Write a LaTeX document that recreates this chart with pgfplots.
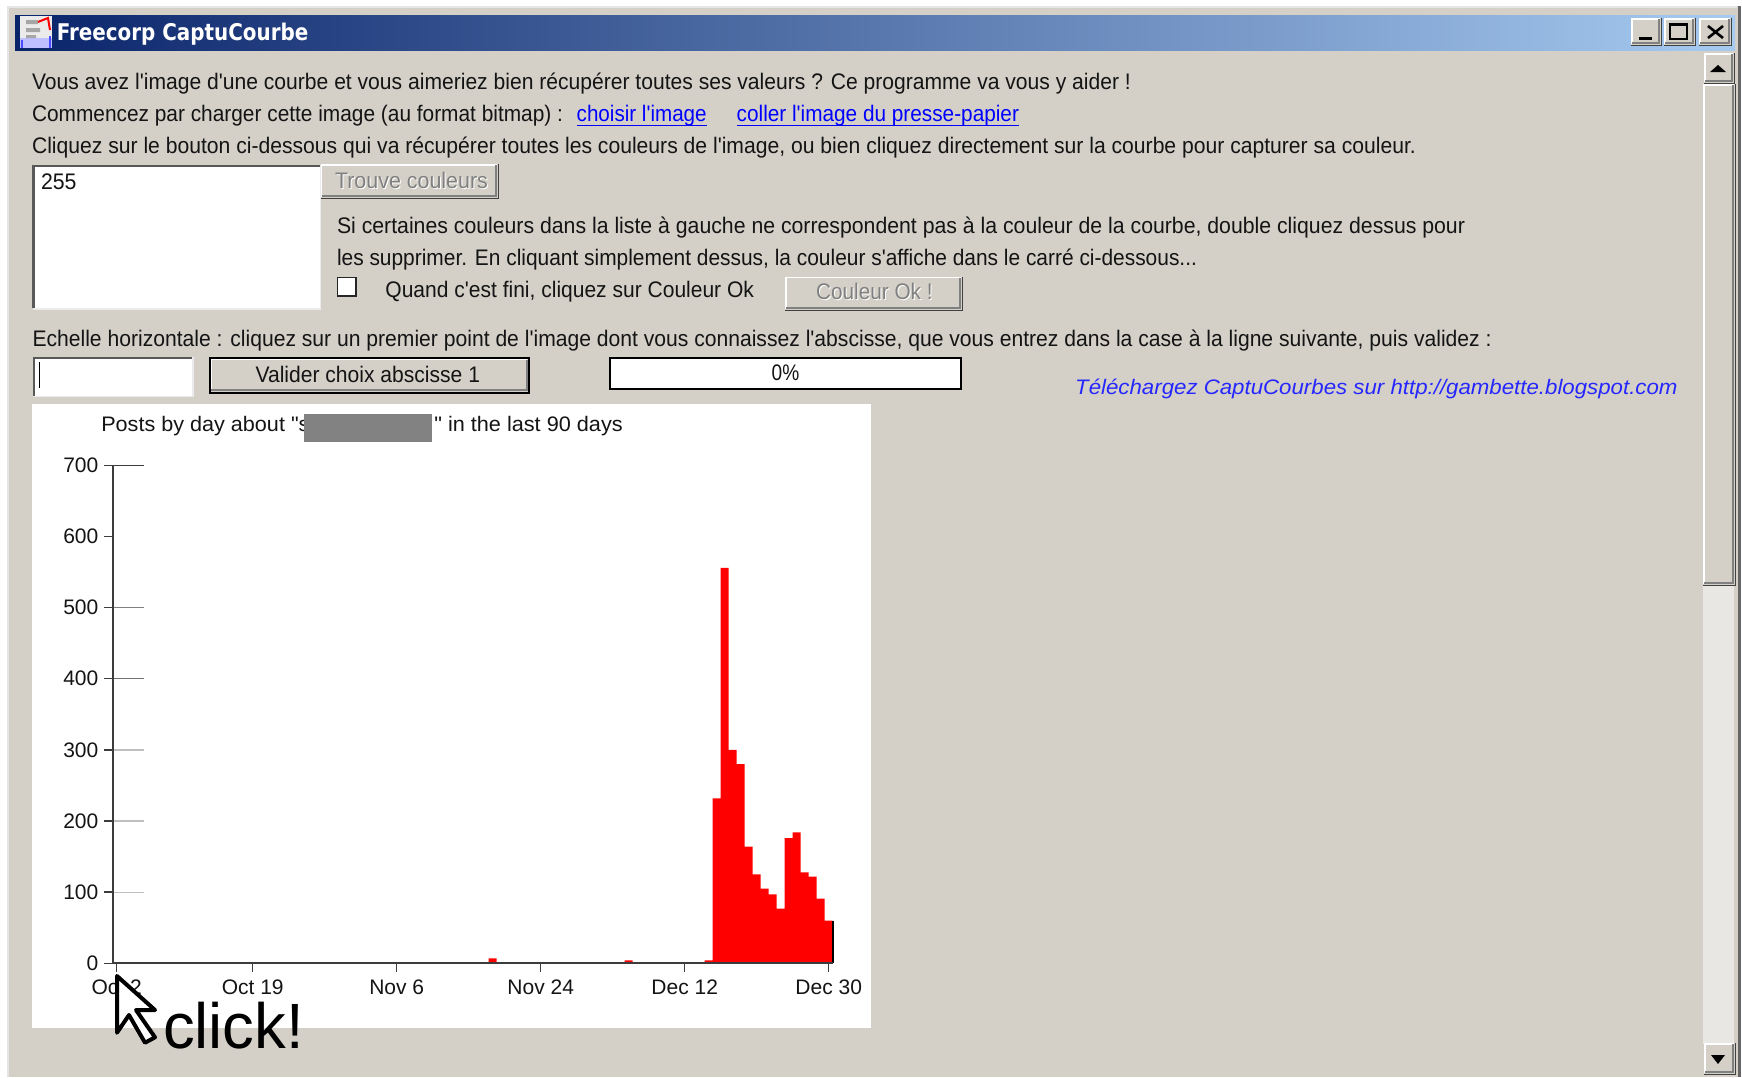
\documentclass[border=0pt]{standalone}
\usepackage{graphicx}
\usepackage{fontspec}
\usepackage{pgfplots}
\pgfplotsset{compat=1.18}
\usepackage{pgfplotstable}
\newfontfamily\ui{Liberation Sans}
\newfontfamily\ttl[Scale=1]{DejaVu Sans}
\definecolor{wbg}{HTML}{D4D0C8}
\definecolor{tk}{HTML}{141414}
\definecolor{trk}{HTML}{E8E7E3}
\definecolor{axc}{HTML}{3C3C3C}
\definecolor{tbL}{HTML}{0A246A}
\definecolor{tbR}{HTML}{A6CAF0}
\pgfplotstableread{
day posts
0 0
47 7
64 4
74 4
75 232
76 556
77 300
78 280
79 164
80 125
81 105
82 97
83 77
84 176
85 184
86 128
87 122
88 91
89 60
}\postsbyday
% x, baseline y, width, colour, size, text
\newcommand\T[6]{\node[anchor=base west,inner sep=0pt,outer sep=0pt,text=#4] at (#1,#2) {\resizebox{#3pt}{\height}{\ui\fontsize{#5}{#5}\selectfont #6}};}
% raised button
\newcommand\Btn[4]{%
  \fill[wbg] (#1,#2) rectangle (#3,#4);
  \draw[white,line width=1.5pt] (#1+1,#4-1) -- (#1+1,#2+1) -- (#3-1,#2+1);
  \draw[gray,line width=1.5pt] (#1+1,#4-2) -- (#3-2,#4-2) -- (#3-2,#2+1);
  \draw[black!75,line width=1pt] (#1,#4) -- (#3,#4) -- (#3,#2);
}
% sunken field
\newcommand\Sunk[4]{%
  \fill[white] (#1,#2) rectangle (#3,#4);
  \draw[white!92!black,line width=1.5pt] (#1,#4) -- (#3,#4) -- (#3,#2);
  \draw[black!65,line width=2.2pt] (#1+1,#4-1) -- (#1+1,#2+1) -- (#3-1,#2+1);
}
\begin{document}
\begin{tikzpicture}
\begin{scope}[x=1pt,y=-1pt]
\useasboundingbox (0,0) rectangle (1742,1077);
\fill[white] (0,0) rectangle (1742,1077);
\fill[wbg] (7,6) rectangle (1741,1077);
\draw[white!90!black,line width=1.2pt] (8,1077) -- (8,7) -- (1737,7);
\fill[wbg] (10,10) rectangle (1736,1077);
\draw[black!60,line width=3pt] (1739.5,6) -- (1739.5,1077);
% title bar
\shade[left color=tbL,right color=tbR] (15,15) rectangle (1735,50);
% icon
\fill[white!92!black] (20,16) rectangle (52,48);
\fill[blue!25!white] (20,38) rectangle (52,48);
\fill[black!35] (26,20) rectangle (38,24) (26,28) rectangle (40,32) (26,35) rectangle (36,38);
\draw[red,line width=2pt] (38,22) -- (48,18) -- (50,30);
\draw[blue!70!white,line width=1.2pt] (22,48) -- (22,40) (50,48) -- (50,36);
\node[anchor=base west,inner sep=0pt,text=white] at (56.6,40) {\resizebox{251.5pt}{\height}{\ttl\bfseries\fontsize{23}{23}\selectfont Freecorp CaptuCourbe}};
% window buttons
\Btn{1631}{18}{1661}{45}
\Btn{1664}{18}{1695}{45}
\Btn{1699}{18}{1731}{45}
\fill[black] (1639,37) rectangle (1652,40);
\draw[black,line width=1.5pt] (1670,24) rectangle (1687,39);
\fill[black] (1670,23) rectangle (1687,26);
\draw[black,line width=2.6pt] (1708,26) -- (1723,38) (1708,38) -- (1723,26);
% scroll bar
\fill[trk] (1703,583) rectangle (1734,1044);
\Btn{1704}{53}{1734}{83}
\fill[black] (1710,72) -- (1726,72) -- (1718,65) -- cycle;
\Btn{1703}{84}{1735}{585}
\Btn{1704}{1043}{1735}{1074}
\fill[black] (1711,1055) -- (1725,1055) -- (1718,1064) -- cycle;
% text lines
\T{32}{89}{1099}{tk}{22.5}{Vous avez l'image d'une courbe et vous aimeriez bien récupérer toutes ses valeurs ? Ce programme va vous y aider !}
\T{32}{121.5}{531}{tk}{22.5}{Commencez par charger cette image (au format bitmap) :}
\T{576.7}{121.5}{130}{blue}{22.5}{choisir l'image}
\draw[blue,line width=1.3pt] (576.7,125.7) -- (706.7,125.7);
\T{736.7}{121.5}{282.3}{blue}{22.5}{coller l'image du presse-papier}
\draw[blue,line width=1.3pt] (736.7,125.7) -- (1019,125.7);
\T{32}{153.5}{1384}{tk}{22.5}{Cliquez sur le bouton ci-dessous qui va récupérer toutes les couleurs de l'image, ou bien cliquez directement sur la courbe pour capturer sa couleur.}
% colour list
\Sunk{32.5}{165}{320.7}{309}
\T{41}{189.5}{35.5}{tk}{22.5}{255}
\Btn{320.7}{164}{498}{198}
\T{336}{189.2}{153}{white}{22.5}{Trouve couleurs}
\T{335}{188.2}{153}{gray}{22.5}{Trouve couleurs}
\T{337}{233}{1128}{tk}{22.5}{Si certaines couleurs dans la liste à gauche ne correspondent pas à la couleur de la courbe, double cliquez dessus pour}
\T{337}{265.7}{860}{tk}{22.5}{les supprimer. En cliquant simplement dessus, la couleur s'affiche dans le carré ci-dessous...}
\fill[white] (337,277) rectangle (356.7,296.7);
\draw[black!85,line width=1.6pt] (337.5,277.5) rectangle (356.2,296.2);
\T{385.4}{297}{368.6}{tk}{22.5}{Quand c'est fini, cliquez sur Couleur Ok}
\Btn{785}{276.7}{962}{310}
\T{817}{300.5}{116.7}{white}{22.5}{Couleur Ok !}
\T{816}{299.5}{116.7}{gray}{22.5}{Couleur Ok !}
\T{32.5}{346.5}{1459.2}{tk}{22.5}{Echelle horizontale : cliquez sur un premier point de l'image dont vous connaissez l'abscisse, que vous entrez dans la case à la ligne suivante, puis validez :}
% second row
\Sunk{33.3}{356.7}{193}{396.7}
\draw[black,line width=1.5pt] (39.4,362) -- (39.4,388);
\fill[wbg] (208.6,356.7) rectangle (530,394);
\draw[white,line width=1.2pt] (211,391) -- (211,359.5) -- (527,359.5);
\draw[gray,line width=1.5pt] (211,390) -- (527,390) -- (527,360);
\draw[black,line width=2pt] (209.6,357.7) rectangle (529,393);
\T{255.6}{382.2}{224.4}{tk}{22.5}{Valider choix abscisse 1}
\fill[white] (608.7,356.7) rectangle (962.3,390);
\draw[black,line width=2pt] (609.7,357.7) rectangle (961.3,389);
\T{771.7}{380}{27.6}{tk}{22.5}{0\%}
\node[anchor=base west,inner sep=0pt,text=blue!85!white] at (1075,394) {\resizebox{602.3pt}{\height}{\ui\itshape\fontsize{21}{21}\selectfont Téléchargez CaptuCourbes sur http://gambette.blogspot.com}};
% chart panel
\fill[white] (32,404) rectangle (870.7,1028.3);
\T{101.3}{431.7}{208.2}{tk}{21}{Posts by day about "s}
\T{434.3}{431.7}{188.4}{tk}{21}{" in the last 90 days}
\fill[black!49] (304,414.3) rectangle (432.3,442.3);
\end{scope}
\begin{axis}[
  at={(112.7pt,-963.3pt)},anchor=south west,
  scale only axis,width=720pt,height=498pt,
  xmin=-0.5,xmax=89.5,ymin=0,ymax=700,
  clip=false,
  axis x line=bottom,axis y line=left,
  axis line style={-,color=axc,line width=2pt},
  axis on top,
  tick align=outside,
  major tick length=8.7pt,
  tick style={color=axc,line width=1.5pt},
  minor tick num=0,
  xtick={0,17,35,53,71,89},
  xticklabels={Oct 2,Oct 19,Nov 6,Nov 24,Dec 12,Dec 30},
  ytick={0,100,200,300,400,500,600,700},
  yticklabels={0,100,200,300,400,500,600,700},
  tick label style={font=\ui\fontsize{21}{21}\selectfont,text=tk,inner sep=0pt,outer sep=0pt},
  xticklabel style={anchor=base,yshift=-22.3pt},
  yticklabel style={anchor=east,xshift=-5.7pt},
]
\addplot[ybar,bar width=8pt,fill=red,draw=none] table[x=day,y=posts] {\postsbyday};
\addplot[black,line width=2pt,mark=none] coordinates {(89.55,60) (89.55,0)};
\draw[axc,line width=1.5pt] (axis cs:-0.5,700) -- (axis cs:3.41,700);
\draw[black!50,line width=1.3pt] (axis cs:-0.5,500) -- (axis cs:3.41,500);
\draw[black!55,line width=1.3pt] (axis cs:-0.5,400) -- (axis cs:3.41,400);
\draw[black!25,line width=1.3pt] (axis cs:-0.5,300) -- (axis cs:3.41,300);
\draw[black!25,line width=1.3pt] (axis cs:-0.5,200) -- (axis cs:3.41,200);
\draw[black!25,line width=1.3pt] (axis cs:-0.5,100) -- (axis cs:3.41,100);
\end{axis}
\begin{scope}[x=1pt,y=-1pt]
% cursor
\draw[black,fill=white,line width=4pt,line join=round] (117,976) -- (155,1010) -- (136,1010) -- (155,1037.3) -- (145,1042.7) -- (129,1015) -- (117,1032.7) -- cycle;
\T{163}{1048.3}{141}{black}{64}{click!}
\end{scope}
\end{tikzpicture}
\end{document}
